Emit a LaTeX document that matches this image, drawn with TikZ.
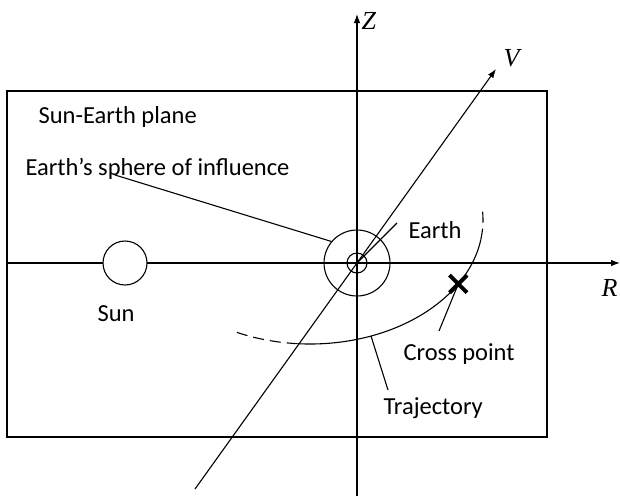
\documentclass[tikz,border=0pt]{standalone}
\usepackage{fontspec}
\setmainfont{Carlito}
\newfontfamily\axlblfont{Liberation Serif}
\usetikzlibrary{arrows.meta,shapes.misc}
\begin{document}
\begin{tikzpicture}[x=1pt,y=1pt,line width=1.1pt,
  lbl/.style={font=\fontsize{24.5}{29}\selectfont, inner sep=0pt, anchor=base west},
  mlbl/.style={font=\axlblfont\itshape\fontsize{26}{30}\selectfont, inner sep=0pt, anchor=base west},
  axis/.style={-{Latex[length=9pt,width=6.5pt]}},
  trdash/.style={dash pattern=on 11pt off 6pt},
  ring/.style={circle, draw, inner sep=0pt}]
\useasboundingbox (0,0) rectangle (620,-496);
% plane
\node[draw, minimum width=540pt, minimum height=346pt, inner sep=0pt] (plane) at (277,-264) {};
% axes
\coordinate (rL) at (7,-263);
\coordinate (rR) at (620,-263);
\coordinate (zB) at (357,-496);
\coordinate (zT) at (357,-14);
\coordinate (vB) at (195,-489);
\coordinate (vT) at (496,-69);
\draw[axis] (rL) -- (rR);
\draw[axis] (zB) -- (zT);
\draw[axis] (vB) -- (vT);
\node[mlbl] (zl) at (361,-29) {Z};
\node[mlbl] (vl) at (503,-66) {V};
\node[mlbl] (rl) at (601,-296) {R};
% bodies
\node[ring, fill=white, minimum size=44pt] (sun) at (125,-263) {};
\node[ring, minimum size=20pt] (earth) at (357,-263) {};
\node[ring, minimum size=66pt] (soi) at (357,-263) {};
% labels
\node[lbl] (pl) at (38,-123) {Sun-Earth plane};
\node[lbl] (sl) at (25,-175) {Earth’s sphere of influence};
\node[lbl] (sunl) at (97,-321) {Sun};
\node[lbl] (el) at (408,-238) {Earth};
\node[lbl] (cpl) at (403,-360) {Cross point};
\node[lbl] (tl) at (383,-414) {Trajectory};
% pointers
\coordinate (sp) at (115,-175);
\draw (sp) -- (soi.140);
\coordinate (ep) at (397,-223);
\draw (earth.center) -- (ep);
% trajectory
\coordinate (oc) at (310,-220);
\draw[trdash] (oc) ++(245:173 and 124) arc[start angle=245, end angle=266, x radius=173, y radius=124];
\draw (oc) ++(266:173 and 124) arc[start angle=266, end angle=351, x radius=173, y radius=124];
\draw[trdash] (oc) ++(351:173 and 124) arc[start angle=351, end angle=364, x radius=173, y radius=124];
\node[cross out, draw, line width=4pt, minimum size=13.5pt, inner sep=0pt] (cross) at (458.3,-283.9) {};
\coordinate (cp) at (439,-331);
\draw (cross.center) -- (cp);
\coordinate (tp0) at (371,-336);
\coordinate (tp1) at (388,-390);
\draw (tp0) -- (tp1);
\end{tikzpicture}
\end{document}
